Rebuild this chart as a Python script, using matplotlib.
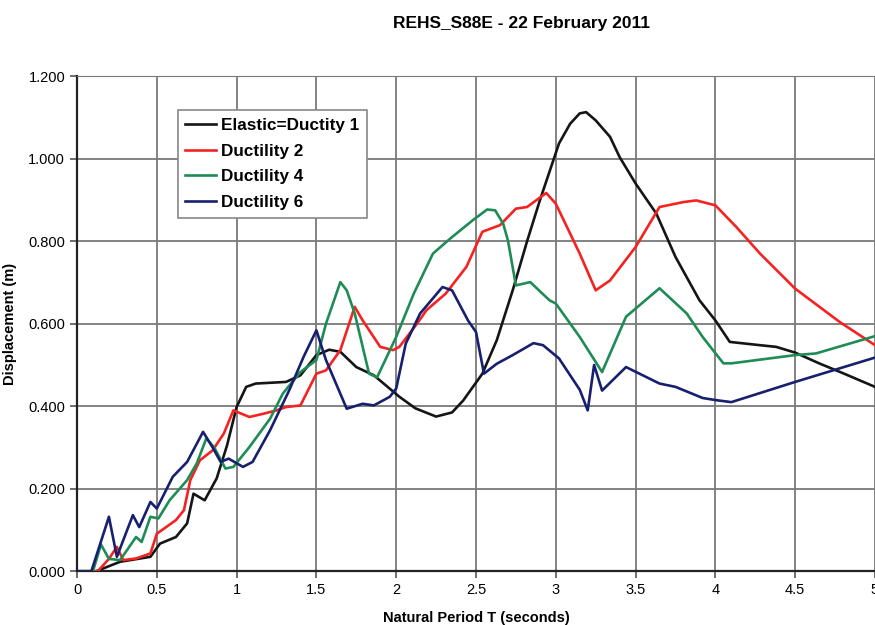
import matplotlib
matplotlib.use("Agg")
import matplotlib.pyplot as plt
from matplotlib.ticker import FuncFormatter

plt.rcParams['font.family'] = ['Liberation Sans', 'DejaVu Sans']

# displacement spectra, period T (s) vs displacement (m)
t_el = [0, 0.12, 0.27, 0.46, 0.52, 0.62, 0.69, 0.73, 0.80, 0.875, 0.94, 1.0, 1.06, 1.12,
        1.31, 1.40, 1.50, 1.58, 1.65, 1.75, 1.86, 2.02, 2.12, 2.25, 2.35, 2.42, 2.54, 2.63,
        2.73, 2.82, 2.90, 3.02, 3.09, 3.15, 3.19, 3.25, 3.34, 3.40, 3.50, 3.63, 3.75, 3.90,
        4.0, 4.09, 4.28, 4.38, 4.5, 4.65, 4.8, 5.0]
d_el = [0, 0, 0.023, 0.035, 0.067, 0.083, 0.116, 0.188, 0.172, 0.225, 0.305, 0.398, 0.447, 0.455,
        0.459, 0.475, 0.524, 0.537, 0.532, 0.495, 0.475, 0.423, 0.395, 0.375, 0.385, 0.414, 0.479, 0.56,
        0.681, 0.80, 0.899, 1.037, 1.085, 1.11, 1.113, 1.093, 1.053, 1.004, 0.94, 0.867, 0.762, 0.657,
        0.608, 0.556, 0.548, 0.544, 0.53, 0.504, 0.48, 0.447]

t_d2 = [0, 0.13, 0.2, 0.25, 0.29, 0.37, 0.46, 0.50, 0.62, 0.67, 0.71, 0.77, 0.85, 0.92, 0.98,
        1.08, 1.17, 1.25, 1.31, 1.40, 1.50, 1.56, 1.65, 1.74, 1.79, 1.90, 1.98, 2.02, 2.13, 2.19,
        2.31, 2.44, 2.54, 2.65, 2.75, 2.82, 2.94, 3.0, 3.15, 3.25, 3.34, 3.50, 3.65, 3.80, 3.88,
        4.0, 4.13, 4.28, 4.5, 4.78, 5.0]
d_d2 = [0, 0, 0.03, 0.059, 0.027, 0.031, 0.043, 0.091, 0.124, 0.148, 0.221, 0.269, 0.293, 0.334, 0.39,
        0.374, 0.382, 0.39, 0.398, 0.402, 0.479, 0.487, 0.536, 0.641, 0.608, 0.544, 0.536, 0.544, 0.60, 0.633,
        0.673, 0.738, 0.823, 0.839, 0.879, 0.883, 0.917, 0.891, 0.77, 0.681, 0.705, 0.786, 0.883, 0.895, 0.899,
        0.887, 0.835, 0.77, 0.685, 0.604, 0.548]

t_d4 = [0, 0.10, 0.15, 0.2, 0.27, 0.37, 0.405, 0.46, 0.51, 0.58, 0.69, 0.75, 0.81, 0.86, 0.93,
        0.98, 1.08, 1.21, 1.29, 1.40, 1.50, 1.56, 1.65, 1.69, 1.74, 1.83, 1.88, 2.0, 2.11, 2.23,
        2.34, 2.48, 2.57, 2.62, 2.67, 2.70, 2.75, 2.84, 2.96, 3.0, 3.15, 3.29, 3.44, 3.65, 3.82,
        3.92, 4.05, 4.1, 4.5, 4.63, 5.0]
d_d4 = [0, 0, 0.065, 0.03, 0.027, 0.083, 0.071, 0.132, 0.128, 0.172, 0.221, 0.261, 0.322, 0.30, 0.249,
        0.253, 0.301, 0.37, 0.431, 0.483, 0.512, 0.60, 0.701, 0.681, 0.625, 0.479, 0.47, 0.568, 0.673, 0.77,
        0.807, 0.851, 0.877, 0.875, 0.843, 0.802, 0.693, 0.701, 0.657, 0.649, 0.568, 0.483, 0.617, 0.686, 0.625,
        0.568, 0.504, 0.504, 0.524, 0.528, 0.57]

t_d6 = [0, 0.09, 0.2, 0.25, 0.35, 0.39, 0.46, 0.50, 0.60, 0.69, 0.79, 0.85, 0.90, 0.95, 1.04,
        1.10, 1.21, 1.33, 1.42, 1.50, 1.56, 1.69, 1.79, 1.86, 1.96, 2.0, 2.06, 2.15, 2.29, 2.35,
        2.45, 2.50, 2.55, 2.63, 2.73, 2.86, 2.92, 3.02, 3.15, 3.20, 3.24, 3.29, 3.44, 3.65, 3.75,
        3.92, 4.0, 4.1, 4.5, 5.0]
d_d6 = [0, 0, 0.132, 0.035, 0.136, 0.107, 0.168, 0.152, 0.229, 0.265, 0.338, 0.30, 0.265, 0.273, 0.253,
        0.265, 0.342, 0.439, 0.52, 0.584, 0.512, 0.394, 0.406, 0.402, 0.423, 0.443, 0.552, 0.625, 0.689, 0.681,
        0.608, 0.58, 0.479, 0.503, 0.524, 0.553, 0.548, 0.516, 0.44, 0.39, 0.5, 0.438, 0.495, 0.455, 0.447,
        0.42, 0.415, 0.41, 0.459, 0.518]

series = [
    (t_el, d_el, 'Elastic=Ductity 1', '#151515'),
    (t_d2, d_d2, 'Ductility 2', '#f52222'),
    (t_d4, d_d4, 'Ductility 4', '#1f8c55'),
    (t_d6, d_d6, 'Ductility 6', '#17206e'),
]

fig = plt.figure(figsize=(8.75, 6.25), dpi=100)
ax = fig.add_axes([0.088, 0.086, 0.912, 0.792])

for t, d, name, col in series:
    ax.plot(t, d, color=col, lw=1.9, label=name, zorder=3)

ax.set_xlim(0, 5)
ax.set_ylim(0, 1.2)
ax.set_xticks([0, 0.5, 1, 1.5, 2, 2.5, 3, 3.5, 4, 4.5, 5])
ax.set_yticks([0, 0.2, 0.4, 0.6, 0.8, 1.0, 1.2])
ax.xaxis.set_major_formatter(FuncFormatter(lambda v, p: '%g' % v))
ax.yaxis.set_major_formatter(FuncFormatter(lambda v, p: '%.3f' % v))
ax.grid(True, color='#7a7a7a', lw=1.3)
ax.tick_params(direction='out', length=5, width=1.2, labelsize=10.5, color='#555555')
for s in ['top', 'right']:
    ax.spines[s].set_color('#7a7a7a')
for s in ['left', 'bottom']:
    ax.spines[s].set_color('#222222')
    ax.spines[s].set_linewidth(1.6)

ax.set_xlabel('Natural Period T (seconds)', fontsize=10.5, fontweight='bold', labelpad=10)
ax.set_ylabel('Displacement (m)', fontsize=10.5, fontweight='bold', labelpad=8)
fig.text(0.596, 0.963, 'REHS_S88E - 22 February 2011', ha='center', va='center',
         fontsize=12.5, fontweight='bold')

leg = ax.legend(loc='upper left', bbox_to_anchor=(0.126, 0.931), fancybox=False,
                framealpha=1, edgecolor='#888888', handlelength=1.8, handletextpad=0.3,
                borderpad=0.45, borderaxespad=0, labelspacing=0.62,
                prop={'weight': 'bold', 'size': 12.3})
leg.get_frame().set_linewidth(1.2)

fig.savefig('out.png', dpi=100)
